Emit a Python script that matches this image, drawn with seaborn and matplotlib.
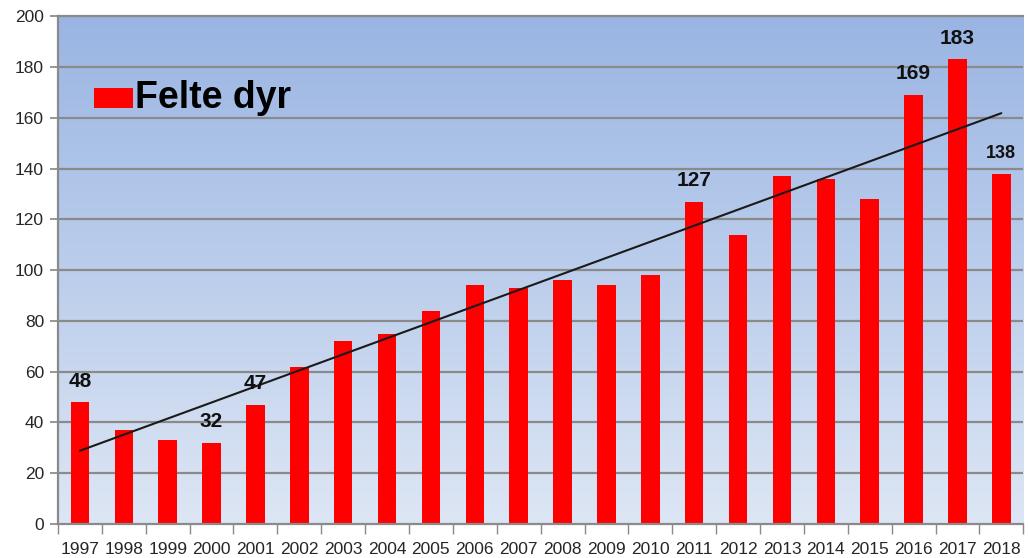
import numpy as np
import pandas as pd
import matplotlib
matplotlib.use("Agg")
import matplotlib.pyplot as plt
import seaborn as sns
from matplotlib.patches import Rectangle

years = [str(y) for y in range(1997, 2019)]
felte = [48, 37, 33, 32, 47, 62, 72, 75, 84, 94, 93, 96, 94, 98, 127, 114, 137, 136, 128, 169, 183, 138]
labeled = {"1997": 48, "2000": 32, "2001": 47, "2011": 127, "2016": 169, "2017": 183, "2018": 138}
yticks = [0, 20, 40, 60, 80, 100, 120, 140, 160, 180, 200]

sns.set_theme(style="white")
plt.rcParams['font.family'] = ['Liberation Sans', 'DejaVu Sans']

fig = plt.figure(figsize=(10.28, 5.58), dpi=100)
ax = fig.add_axes([0.0564, 0.061, 0.939, 0.910])

df = pd.DataFrame({"year": years, "felte": felte})

# gradient background
grad = np.linspace(0, 1, 256).reshape(-1, 1)
cmap = matplotlib.colors.LinearSegmentedColormap.from_list("bg", ["#dde6f4", "#9ab5e3"])
ax.imshow(grad, aspect="auto", cmap=cmap, origin="lower",
          extent=[0, 1, 0, 1], transform=ax.transAxes, zorder=0)

for t in yticks[1:]:
    ax.axhline(t, color="#8a8a8a", lw=1.6, zorder=1)

sns.barplot(data=df, x="year", y="felte", color="#ff0000", width=0.42,
            saturation=1, ax=ax, zorder=2, edgecolor="none")

# linear trend
xs = np.arange(len(felte))
k, m = np.polyfit(xs, felte, 1)
ax.plot([xs[0], xs[-1]], [k * xs[0] + m, k * xs[-1] + m], color="#1a1a1a", lw=1.5, zorder=3)

for i, y in enumerate(years):
    if y in labeled:
        fs = 13 if y == "2018" else 15
        ax.text(i, felte[i] + 4.5, str(labeled[y]), ha="center", va="bottom",
                fontsize=fs, fontweight="bold", color="#111111", zorder=4)

ax.set_xlim(-0.5, len(years) - 0.5)
ax.set_ylim(0, 200)
ax.set_yticks(yticks)
ax.set_yticklabels([str(t) for t in yticks], fontsize=12.5)
ax.set_xticks(xs)
ax.set_xticklabels(years, fontsize=12.5)
ax.set_xlabel("")
ax.set_ylabel("")
ax.tick_params(axis="x", length=0, pad=13)
ax.tick_params(axis="y", length=6, color="#8a8a8a", direction="out", pad=4, left=True)
# category boundary ticks
ax.set_xticks(np.arange(-0.5, len(years), 1), minor=True)
ax.tick_params(axis="x", which="minor", length=7, color="#8a8a8a", direction="out", bottom=True)

for s in ["left", "bottom", "top"]:
    ax.spines[s].set_visible(True)
    ax.spines[s].set_color("#8a8a8a")
    ax.spines[s].set_linewidth(1.6)
ax.spines["right"].set_visible(False)

# legend
lx, ly = 0.037, 0.819
ax.add_patch(Rectangle((lx, ly), 0.041, 0.04, transform=ax.transAxes,
                       facecolor="#ff0000", edgecolor="none", zorder=5))
ax.text(lx + 0.043, ly + 0.02, "Felte dyr", transform=ax.transAxes,
        fontsize=27, fontweight="bold", va="center", ha="left", color="black", zorder=5)

fig.savefig("out.png", dpi=100)
